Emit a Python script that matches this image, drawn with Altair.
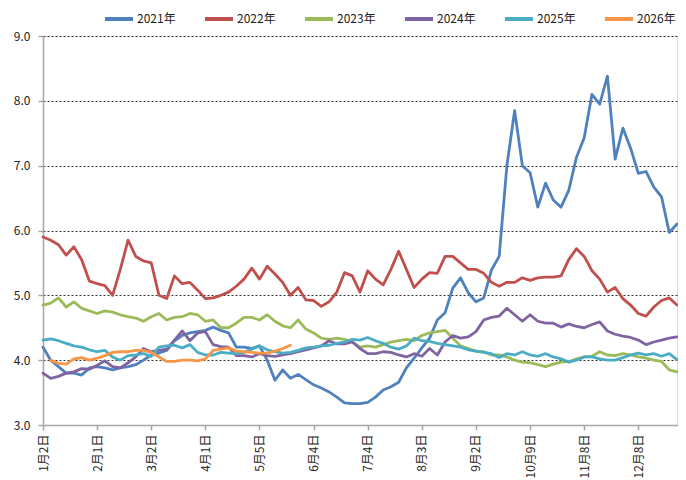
import altair as alt
import pandas as pd

# ---- data ----
TICK_LABELS = ["1月2日", "2月1日", "3月2日", "4月1日", "5月5日", "6月4日",
               "7月4日", "8月3日", "9月2日", "10月9日", "11月8日", "12月8日"]
TICK_EVERY = 21      # trading days between labelled ticks
STEP = 3             # trading days between stored samples
LAST_IDX = 246

S2021 = [4.2, 4.0, 3.9, 3.8, 3.8, 3.77, 3.88, 3.9, 3.88, 3.85,
         3.88, 3.9, 3.93, 4.0, 4.08, 4.11, 4.15, 4.3, 4.38, 4.42,
         4.44, 4.46, 4.51, 4.46, 4.42, 4.2, 4.2, 4.18, 4.22, 4.0,
         3.69, 3.85, 3.72, 3.78, 3.7, 3.62, 3.57, 3.51, 3.43, 3.34,
         3.33, 3.33, 3.35, 3.43, 3.54, 3.59, 3.66, 3.88, 4.03, 4.19,
         4.34, 4.62, 4.73, 5.11, 5.27, 5.04, 4.9, 4.96, 5.39, 5.6,
         7.0, 7.85, 7.0, 6.89, 6.36, 6.73, 6.47, 6.36, 6.62, 7.13,
         7.43, 8.1, 7.95, 8.38, 7.1, 7.58, 7.27, 6.88, 6.91, 6.67,
         6.52, 5.97, 6.1]
S2022 = [5.9, 5.85, 5.78, 5.62, 5.75, 5.55, 5.22, 5.18, 5.15, 5.0,
         5.4, 5.85, 5.6, 5.53, 5.5, 5.0, 4.95, 5.3, 5.18, 5.2,
         5.08, 4.95, 4.96, 5.0, 5.05, 5.14, 5.25, 5.42, 5.25, 5.45,
         5.33, 5.2, 5.0, 5.12, 4.93, 4.92, 4.83, 4.9, 5.05, 5.35,
         5.3, 5.05, 5.38, 5.25, 5.16, 5.4, 5.68, 5.4, 5.12, 5.25,
         5.35, 5.34, 5.6, 5.6, 5.5, 5.4, 5.4, 5.34, 5.2, 5.14,
         5.2, 5.2, 5.27, 5.23, 5.27, 5.28, 5.28, 5.3, 5.55, 5.72,
         5.6, 5.38, 5.25, 5.05, 5.12, 4.95, 4.85, 4.72, 4.68, 4.82,
         4.92, 4.96, 4.85]
S2023 = [4.85, 4.88, 4.96, 4.82, 4.9, 4.8, 4.76, 4.72, 4.76, 4.74,
         4.7, 4.67, 4.65, 4.6, 4.67, 4.72, 4.62, 4.66, 4.67, 4.72,
         4.7, 4.6, 4.62, 4.5, 4.5, 4.57, 4.66, 4.66, 4.62, 4.7,
         4.6, 4.53, 4.5, 4.62, 4.48, 4.42, 4.34, 4.32, 4.34, 4.32,
         4.28, 4.2, 4.22, 4.2, 4.24, 4.28, 4.3, 4.32, 4.3, 4.38,
         4.42, 4.44, 4.46, 4.34, 4.22, 4.18, 4.14, 4.13, 4.08, 4.08,
         4.05, 4.0, 3.97, 3.96, 3.93, 3.9, 3.94, 3.97, 3.98, 4.02,
         4.05, 4.06, 4.13, 4.08, 4.07, 4.1, 4.08, 4.05, 4.03, 4.0,
         3.98, 3.85, 3.82]
S2024 = [3.8, 3.72, 3.75, 3.8, 3.82, 3.87, 3.86, 3.92, 3.99, 3.9,
         3.88, 3.96, 4.05, 4.18, 4.13, 4.15, 4.17, 4.31, 4.45, 4.3,
         4.42, 4.44, 4.24, 4.21, 4.2, 4.07, 4.07, 4.05, 4.1, 4.07,
         4.06, 4.08, 4.1, 4.13, 4.16, 4.19, 4.22, 4.3, 4.25, 4.25,
         4.28, 4.18, 4.1, 4.1, 4.13, 4.12, 4.08, 4.05, 4.1, 4.06,
         4.18, 4.08, 4.28, 4.38, 4.34, 4.36, 4.44, 4.62, 4.66, 4.68,
         4.8, 4.7, 4.6, 4.7, 4.6, 4.57, 4.57, 4.51, 4.56, 4.52,
         4.5, 4.55, 4.59, 4.45, 4.4, 4.37, 4.35, 4.31, 4.24, 4.28,
         4.31, 4.34, 4.36]
S2025 = [4.31, 4.33, 4.3, 4.26, 4.22, 4.2, 4.16, 4.13, 4.15, 4.05,
         4.0, 4.07, 4.08, 4.1, 4.06, 4.2, 4.22, 4.23, 4.19, 4.24,
         4.12, 4.08, 4.08, 4.12, 4.11, 4.1, 4.12, 4.17, 4.22, 4.16,
         4.13, 4.11, 4.12, 4.15, 4.19, 4.2, 4.22, 4.23, 4.26, 4.28,
         4.32, 4.31, 4.35, 4.3, 4.26, 4.2, 4.17, 4.22, 4.34, 4.3,
         4.29, 4.26, 4.24, 4.22, 4.2, 4.16, 4.14, 4.12, 4.1, 4.04,
         4.1, 4.08, 4.13, 4.08, 4.06, 4.1, 4.05, 4.02, 3.97, 4.0,
         4.05, 4.05, 4.02, 4.0, 4.0, 4.04, 4.08, 4.11, 4.08, 4.1,
         4.06, 4.1, 4.01]
S2026 = [None, 4.0, 3.95, 3.94, 4.02, 4.04, 4.0, 4.03, 4.07, 4.12, 4.13,
         4.13, 4.15, 4.15, 4.12, 4.05, 3.98, 3.98, 4.0, 4.0, 3.99,
         4.02, 4.15, 4.17, 4.19, 4.14, 4.13, 4.12, 4.11, 4.11, 4.14,
         4.18, 4.23]

SERIES_NAMES = ["2021年", "2022年", "2023年", "2024年", "2025年", "2026年"]
SERIES_VALUES = [S2021, S2022, S2023, S2024, S2025, S2026]
COLORS = ["#4f81bd", "#c0504d", "#9bbb59", "#8064a2", "#4bacc6", "#f79646"]

rows = []
for name, vals in zip(SERIES_NAMES, SERIES_VALUES):
    for k, v in enumerate(vals):
        if v is None:
            continue
        rows.append({"idx": k * STEP, "value": v, "series": name})
df = pd.DataFrame(rows)

tick_values = [i * TICK_EVERY for i in range(len(TICK_LABELS))]
labels_js = "[" + ",".join("'" + s + "'" for s in TICK_LABELS) + "]"
label_expr = labels_js + "[round(datum.value/" + str(TICK_EVERY) + ")]"

FONT = "Noto Sans CJK SC"

chart = alt.Chart(df).mark_line(strokeWidth=2.8, strokeJoin="round", strokeCap="round").encode(
    x=alt.X("idx:Q",
            scale=alt.Scale(domain=[0, LAST_IDX], nice=False, zero=False),
            axis=alt.Axis(values=tick_values, labelExpr=label_expr, labelAngle=270,
                          title=None, grid=False, tickSize=5, labelPadding=4,
                          labelFontSize=12, labelFont=FONT, labelColor="#222",
                          domainColor="#a6a6a6", domainWidth=1.5,
                          tickColor="#a6a6a6", tickWidth=1.5, labelFlush=False,
                          labelOverlap=False)),
    y=alt.Y("value:Q",
            scale=alt.Scale(domain=[3, 9], nice=False, zero=False),
            axis=alt.Axis(values=[3, 4, 5, 6, 7, 8, 9], format=".1f", title=None,
                          grid=True, gridDash=[2, 2], gridColor="#333", gridWidth=1,
                          tickSize=5, labelPadding=8, labelFontSize=12, labelFont=FONT,
                          labelColor="#222", domainColor="#a6a6a6", domainWidth=1.5,
                          tickColor="#a6a6a6", tickWidth=1.5)),
    color=alt.Color("series:N",
                    scale=alt.Scale(domain=SERIES_NAMES, range=COLORS),
                    legend=alt.Legend(title=None, orient="none", direction="horizontal",
                                      legendX=60, legendY=-33, symbolType="stroke",
                                      symbolSize=784, symbolStrokeWidth=4,
                                      labelFontSize=12, labelFont=FONT, labelColor="#222",
                                      columnPadding=21, labelOffset=2, padding=0,
                                      gridAlign="all")),
).properties(
    width=634, height=389,
    autosize=alt.AutoSizeParams(type="none"),
    padding={"left": 35, "top": 28, "right": 1, "bottom": 56},
).configure_view(stroke=None).configure(background="white")

chart.save("out.html", embed_options={"renderer": "svg", "actions": False})
